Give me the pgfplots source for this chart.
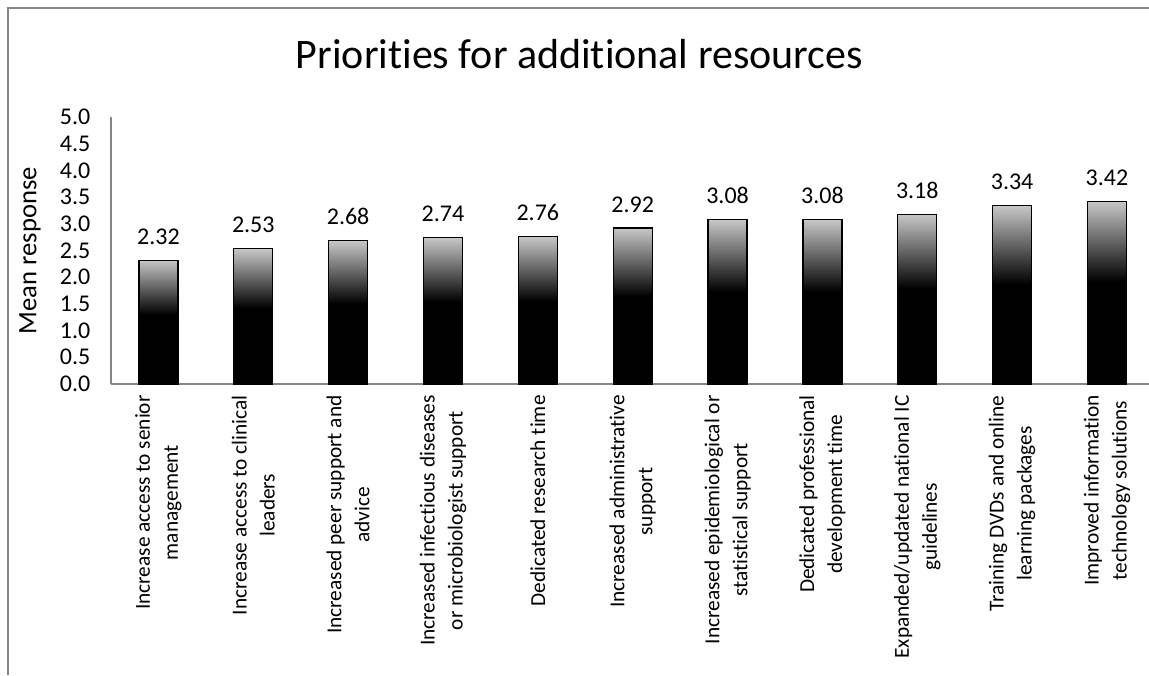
\documentclass[border=0pt]{standalone}
\usepackage{fontspec}
\setmainfont{Carlito}[Ligatures=NoCommon]
\usepackage{pgfplots}
\pgfplotsset{compat=1.18}
\pgfkeys{/pgf/number format/assume math mode=true}
\pgfdeclareverticalshading{barshade}{100bp}{color(0bp)=(black); color(25bp)=(black); color(53bp)=(black); color(75bp)=(black!22); color(100bp)=(black!22)}
\definecolor{axisgray}{RGB}{134,134,134}
\pgfplotsset{mybar/.style={ybar, bar shift=0pt, bar width=29.25pt, draw=black, line width=0.9pt, shade, shading=barshade,
  nodes near coords={\pgfmathprintnumber[fixed,fixed zerofill,precision=2]{\pgfplotspointmeta}},
  every node near coord/.append style={font=\fontsize{18}{21}\selectfont, text=black, yshift=8pt}}}
\begin{document}
\begin{tikzpicture}
\path[use as bounding box] (0,0) rectangle (861.75pt,506.25pt);
\draw[axisgray, line width=1.5pt] (6pt,0) -- (6pt,500.25pt) -- (861.75pt,500.25pt);
\node[font=\fontsize{31.5}{36}\selectfont, anchor=base] at (434.6pt,454.5pt) {Priorities for additional resources};
\begin{axis}[
  scale only axis, width=778.5pt, height=200.25pt,
  at={(83.25pt,218.25pt)}, anchor=south west,
  xmin=-0.5, xmax=10.443, ymin=0, ymax=5,
  axis x line*=bottom, axis y line*=left,
  axis line style={axisgray, line width=1pt},
  major tick length=0pt,
  ytick={0,0.5,1,1.5,2,2.5,3,3.5,4,4.5,5},
  yticklabel style={font=\fontsize{18}{21}\selectfont, /pgf/number format/.cd, fixed, fixed zerofill, precision=1},
  yticklabel shift=12pt,
  xtick={0,1,2,3,4,5,6,7,8,9,10},
  xticklabels={
    {Increase access to senior\\management},
    {Increase access to clinical\\leaders},
    {Increased peer support and\\advice},
    {Increased infectious diseases\\or microbiologist support},
    {Dedicated research time},
    {Increased administrative\\support},
    {Increased epidemiological or\\statistical support},
    {Dedicated professional\\development time},
    {Expanded/updated national IC\\guidelines},
    {Training DVDs and online\\learning packages},
    {Improved information\\technology solutions}},
  xticklabel style={font=\fontsize{16}{21}\selectfont, rotate=90, anchor=east, align=center},
  xticklabel shift=5pt,
  every axis y label/.style={at={(axis description cs:-0.078,0.5)}, rotate=90, anchor=center, font=\fontsize{20}{24}\selectfont},
  ylabel={Mean response},
]
\addplot[mybar] coordinates {(0,2.32)};
\addplot[mybar] coordinates {(1,2.53)};
\addplot[mybar] coordinates {(2,2.68)};
\addplot[mybar] coordinates {(3,2.74)};
\addplot[mybar] coordinates {(4,2.76)};
\addplot[mybar] coordinates {(5,2.92)};
\addplot[mybar] coordinates {(6,3.08)};
\addplot[mybar] coordinates {(7,3.08)};
\addplot[mybar] coordinates {(8,3.18)};
\addplot[mybar] coordinates {(9,3.34)};
\addplot[mybar] coordinates {(10,3.42)};
\end{axis}
\end{tikzpicture}
\end{document}
